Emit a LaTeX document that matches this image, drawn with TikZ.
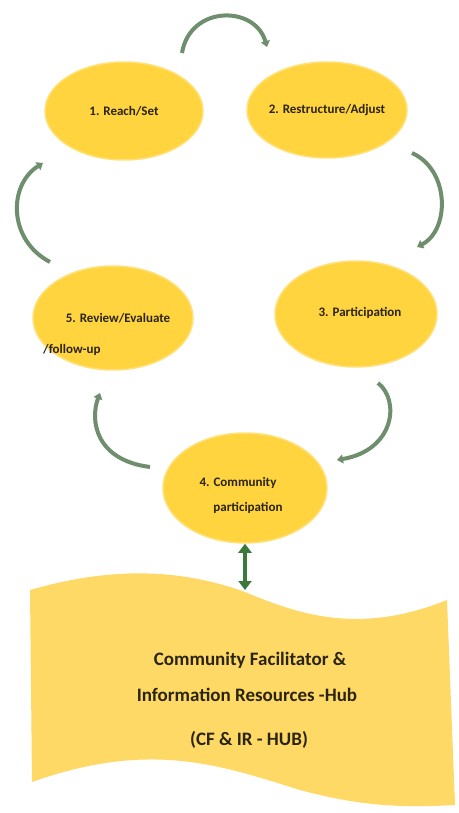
\documentclass[tikz,border=0pt]{standalone}
\usepackage{fontspec}
\setmainfont{Carlito}
\usetikzlibrary{arrows.meta,shapes.geometric}
\definecolor{ellcol}{HTML}{FFD43F}
\definecolor{bancol}{HTML}{FFD966}
\definecolor{arrcol}{HTML}{6E8E6E}
\definecolor{dblcol}{HTML}{3C7A3C}
\definecolor{txtcol}{HTML}{2A2410}
\tikzset{
  ell/.style={ellipse, fill=ellcol, draw=ellcol!70!white, line width=1.5pt, inner sep=0pt},
  elltext/.style={font=\bfseries\fontsize{13}{15}\selectfont, text=txtcol, inner sep=0pt},
  bantext/.style={font=\bfseries\fontsize{19}{22}\selectfont, text=txtcol, inner sep=0pt},
  cyc/.style={draw=arrcol, line width=4pt, -{Triangle[width=9pt,length=6pt]}},
  dbl/.style={draw=dblcol, line width=4.5pt, {Triangle[width=13pt,length=9pt]}-{Triangle[width=13pt,length=9pt]}}
}
\begin{document}
\begin{tikzpicture}[x=1pt,y=-1pt]
\useasboundingbox[fill=white] (0,0) rectangle (458,813);
% banner
\path[fill=bancol] (30,590) .. controls (100,570) and (170,565) .. (245,592)
  .. controls (300,615) and (360,635) .. (447,600)
  -- (455,805) .. controls (400,808) and (360,806) .. (300,790)
  .. controls (220,765) and (150,740) .. (32,782) -- cycle;
% ellipses
\node[ell, minimum width=158pt, minimum height=98pt] (e1) at (124,111) {};
\node[ell, minimum width=160pt, minimum height=96pt] (e2) at (327,110) {};
\node[ell, minimum width=162pt, minimum height=106pt] (e3) at (356,314) {};
\node[ell, minimum width=164pt, minimum height=110pt] (e4) at (245,488) {};
\node[ell, minimum width=160pt, minimum height=104pt] (e5) at (113,318) {};
% texts
\node[elltext] (t1) at (e1.center) {1. Reach/Set};
\node[elltext] (t2) at (e2.center) {2. Restructure/Adjust};
\node[elltext] (t3) at (360,313) {3. Participation};
\node[elltext] (t4a) at (238,483) {4. Community};
\node[elltext] (t4b) at (248,508) {participation};
\node[elltext] (t5a) at (118,318) {5. Review/Evaluate};
\node[elltext, anchor=west] (t5b) at (43,350) {/follow-up};
\node[bantext] (b1) at (250,660) {Community Facilitator \&};
\node[bantext] (b2) at (247,695) {Information Resources -Hub};
\node[bantext] (b3) at (249,740) {(CF \& IR - HUB)};
% cycle arrows
\coordinate (a1s) at (182,53); \coordinate (a1e) at (267,47);
\coordinate (a2s) at (412,153); \coordinate (a2e) at (417,247);
\coordinate (a3s) at (378,383); \coordinate (a3e) at (337,460);
\coordinate (a4s) at (150,467); \coordinate (a4e) at (100,393);
\coordinate (a5s) at (50,262); \coordinate (a5e) at (43,163);
\draw[cyc] (a1s) .. controls (190,5) and (255,5) .. (a1e);
\draw[cyc] (a2s) .. controls (450,170) and (450,230) .. (a2e);
\draw[cyc] (a3s) .. controls (400,400) and (395,450) .. (a3e);
\draw[cyc] (a4s) .. controls (95,460) and (90,420) .. (a4e);
\draw[cyc] (a5s) .. controls (8,240) and (8,185) .. (a5e);
% double arrow
\coordinate (d1) at (245,590);
\draw[dbl] (e4.south) -- (d1);
\end{tikzpicture}
\end{document}
